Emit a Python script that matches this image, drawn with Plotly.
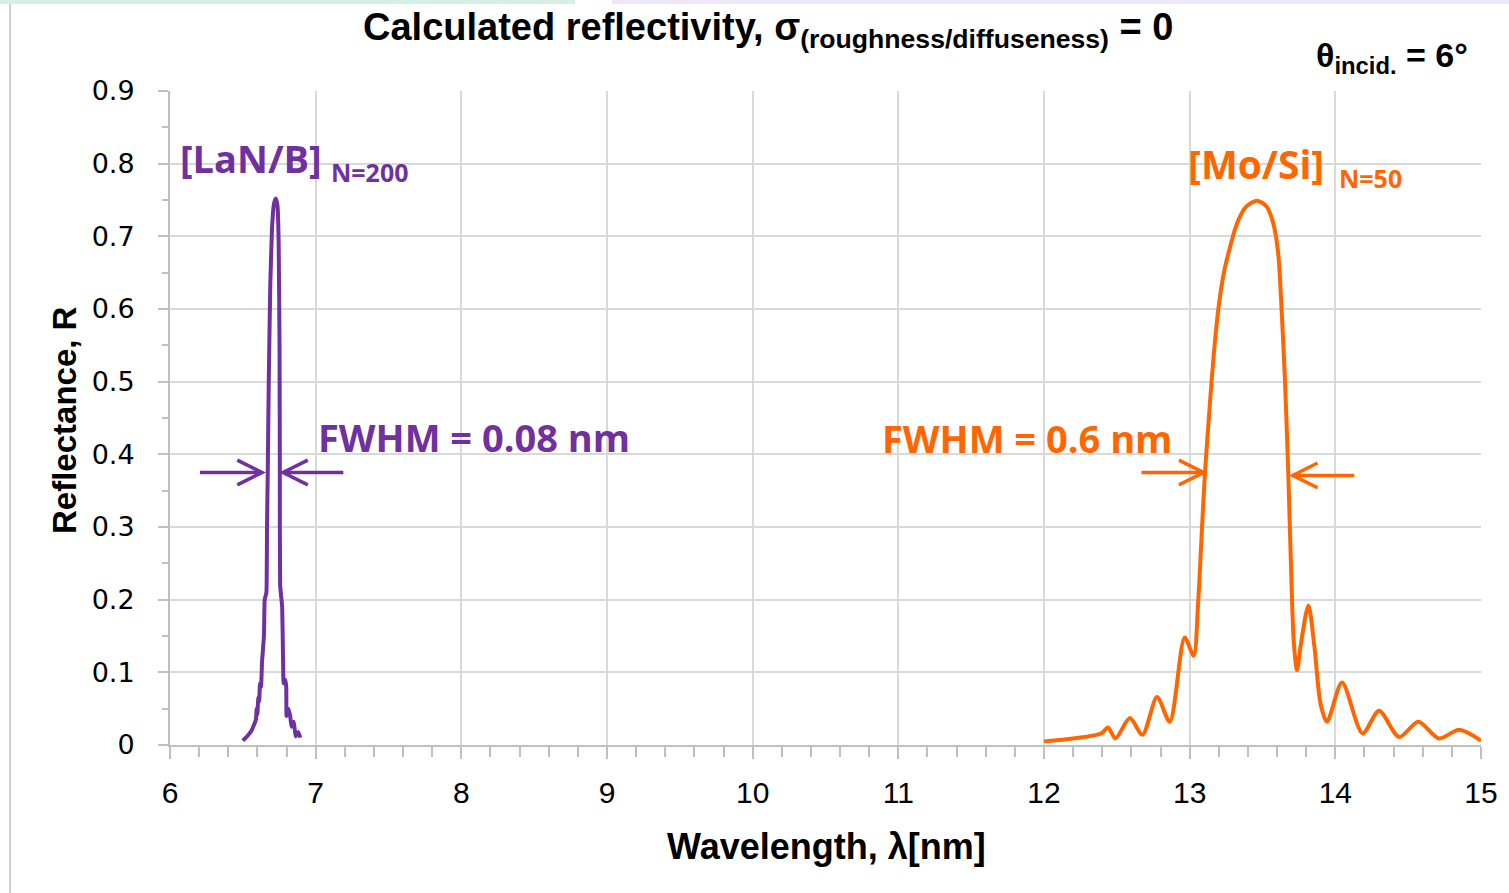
import plotly.graph_objects as go

# ---------------- data ----------------
lanb_wl = [6.500, 6.530, 6.560, 6.575, 6.590, 6.595, 6.600, 6.606, 6.612, 6.618, 6.625, 6.632,
           6.645, 6.650, 6.662, 6.666, 6.671, 6.678, 6.688, 6.700, 6.714, 6.726, 6.738, 6.746,
           6.752, 6.754, 6.756, 6.770, 6.776, 6.780, 6.790, 6.798, 6.800, 6.812, 6.825, 6.834,
           6.850, 6.862, 6.880, 6.895]
lanb_r = [0.006, 0.012, 0.020, 0.027, 0.035, 0.050, 0.042, 0.065, 0.060, 0.085, 0.080, 0.115,
          0.150, 0.200, 0.210, 0.300, 0.375, 0.500, 0.630, 0.710, 0.745, 0.752, 0.742, 0.690,
          0.550, 0.375, 0.220, 0.190, 0.120, 0.085, 0.090, 0.080, 0.040, 0.050, 0.040, 0.025,
          0.032, 0.012, 0.018, 0.010]

mosi_wl = [12.00, 12.20, 12.36, 12.395, 12.44, 12.49, 12.59, 12.676, 12.776, 12.863, 12.966,
           13.027, 13.057, 13.085, 13.105, 13.130, 13.151, 13.178, 13.208, 13.240, 13.277, 13.310,
           13.345, 13.380, 13.414, 13.464, 13.528, 13.574, 13.608, 13.631, 13.654, 13.677, 13.696,
           13.715, 13.737, 13.765, 13.815, 13.856, 13.90, 13.943, 14.046, 14.187, 14.30, 14.438,
           14.57, 14.712, 14.85, 15.00]
mosi_r = [0.005, 0.009, 0.014, 0.016, 0.024, 0.009, 0.037, 0.014, 0.066, 0.032, 0.148,
          0.123, 0.192, 0.300, 0.374, 0.445, 0.502, 0.565, 0.617, 0.655, 0.685, 0.709,
          0.727, 0.739, 0.745, 0.749, 0.741, 0.718, 0.676, 0.600, 0.502, 0.374, 0.243,
          0.141, 0.103, 0.141, 0.192, 0.136, 0.055, 0.032, 0.086, 0.016, 0.047, 0.011,
          0.032, 0.009, 0.021, 0.006]

x_ticks = [6, 7, 8, 9, 10, 11, 12, 13, 14, 15]
y_ticks = [0, 0.1, 0.2, 0.3, 0.4, 0.5, 0.6, 0.7, 0.8, 0.9]
y_ticklabels = ["0", "0.1", "0.2", "0.3", "0.4", "0.5", "0.6", "0.7", "0.8", "0.9"]

PURPLE = "#7030A0"
ORANGE = "#FF6600"
NARROW = "Liberation Sans Narrow, Arial Narrow, sans-serif"
WIDE = "Open Sans, sans-serif"

W, H = 1509, 893
L, R, T, B = 170, 28, 91, 148
PW, PH = W - L - R, H - T - B


def px(x):
    return (x - L) / PW


def py(y):
    return (H - B - y) / PH


fig = go.Figure()
fig.add_trace(go.Scatter(x=lanb_wl, y=lanb_r, mode="lines",
                         line=dict(color=PURPLE, width=4, shape="spline", smoothing=0.3),
                         showlegend=False, hoverinfo="skip"))
fig.add_trace(go.Scatter(x=mosi_wl, y=mosi_r, mode="lines",
                         line=dict(color=ORANGE, width=4, shape="spline", smoothing=0.8),
                         showlegend=False, hoverinfo="skip"))

fig.update_layout(
    width=W, height=H,
    margin=dict(l=L, r=R, t=T, b=B),
    paper_bgcolor="white", plot_bgcolor="white",
    showlegend=False,
)
fig.update_xaxes(
    range=[6, 15], tickvals=x_ticks, ticktext=[str(v) for v in x_ticks],
    showgrid=True, gridcolor="#D9D9D9", gridwidth=2,
    showline=True, linecolor="#BFBFBF", linewidth=2,
    ticks="outside", ticklen=12, tickcolor="#BFBFBF", tickwidth=2,
    ticklabelstandoff=8,
    minor=dict(dtick=0.2, ticks="outside", ticklen=10, tickcolor="#BFBFBF", tickwidth=1.5, showgrid=False),
    tickfont=dict(family=NARROW, size=30, color="black"),
    zeroline=False,
)
fig.update_yaxes(
    range=[0, 0.9], tickvals=y_ticks, ticktext=y_ticklabels,
    showgrid=True, gridcolor="#D9D9D9", gridwidth=2,
    showline=True, linecolor="#BFBFBF", linewidth=2,
    ticks="outside", ticklen=10, tickcolor="#BFBFBF", tickwidth=2,
    ticklabelstandoff=18,
    minor=dict(dtick=0.05, ticks="outside", ticklen=6, tickcolor="#BFBFBF", tickwidth=1.5, showgrid=False),
    tickfont=dict(family="DejaVu Sans, Verdana, sans-serif", size=27, color="black"),
    zeroline=False,
)

ann = []
# Title
ann.append(dict(x=px(768), y=py(30), xref="paper", yref="paper", xanchor="center", yanchor="middle",
                text="<b>Calculated reflectivity</b><b>, σ<sub>(roughness/diffuseness)</sub> = 0</b>",
                showarrow=False, font=dict(family=NARROW, size=38, color="black")))
ann.append(dict(x=px(1470), y=py(58), xref="paper", yref="paper", xanchor="right", yanchor="middle",
                text="<b>θ<sub>incid.</sub> = 6°</b>",
                showarrow=False, font=dict(family=NARROW, size=34, color="black")))
# Axis titles
ann.append(dict(x=px(64), y=py(420), xref="paper", yref="paper", xanchor="center", yanchor="middle",
                text="<b>Reflectance, R</b>", textangle=-90,
                showarrow=False, font=dict(family=NARROW, size=33, color="black")))
ann.append(dict(x=px(826), y=py(846), xref="paper", yref="paper", xanchor="center", yanchor="middle",
                text="<b>Wavelength, λ[nm]</b>",
                showarrow=False, font=dict(family=NARROW, size=36, color="black")))
# Series labels
ann.append(dict(x=px(178), y=py(158), xref="paper", yref="paper", xanchor="left", yanchor="middle",
                text="<b>[LaN/B]</b>", showarrow=False, font=dict(family=WIDE, size=38, color=PURPLE)))
ann.append(dict(x=px(329), y=py(172), xref="paper", yref="paper", xanchor="left", yanchor="middle",
                text="<b>N=200</b>", showarrow=False, font=dict(family=WIDE, size=25, color=PURPLE)))
ann.append(dict(x=px(316), y=py(437), xref="paper", yref="paper", xanchor="left", yanchor="middle",
                text="<b>FWHM = 0.08 nm</b>", showarrow=False, font=dict(family=WIDE, size=38, color=PURPLE)))
ann.append(dict(x=px(1186), y=py(163), xref="paper", yref="paper", xanchor="left", yanchor="middle",
                text="<b>[Mo/Si]</b>", showarrow=False, font=dict(family=WIDE, size=39, color=ORANGE)))
ann.append(dict(x=px(1337), y=py(178), xref="paper", yref="paper", xanchor="left", yanchor="middle",
                text="<b>N=50</b>", showarrow=False, font=dict(family=WIDE, size=25, color=ORANGE)))
ann.append(dict(x=px(1174), y=py(438), xref="paper", yref="paper", xanchor="right", yanchor="middle",
                text="<b>FWHM = 0.6 nm</b>", showarrow=False, font=dict(family=WIDE, size=38, color=ORANGE)))
fig.update_layout(annotations=ann)

# Arrows (shaft + open chevron), drawn in data coordinates
shapes = []


def arrow(x_start, x_tip, yv, color):
    d = 0.17 if x_tip > x_start else -0.17
    dy = 0.017
    shapes.append(dict(type="line", xref="x", yref="y", x0=x_start, x1=x_tip, y0=yv, y1=yv,
                       line=dict(color=color, width=3.5)))
    shapes.append(dict(type="path", xref="x", yref="y",
                       path=f"M {x_tip - d},{yv + dy} L {x_tip},{yv} L {x_tip - d},{yv - dy}",
                       line=dict(color=color, width=3.5)))


arrow(6.206, 6.632, 0.375, PURPLE)
arrow(7.19, 6.776, 0.375, PURPLE)
arrow(12.669, 13.096, 0.375, ORANGE)
arrow(14.13, 13.708, 0.371, ORANGE)

# slide decorations
shapes.append(dict(type="rect", xref="paper", yref="paper", x0=px(0), x1=px(575), y0=py(0), y1=py(4),
                   fillcolor="#D6F0E6", line=dict(width=0), layer="below"))
shapes.append(dict(type="rect", xref="paper", yref="paper", x0=px(612), x1=px(1509), y0=py(0), y1=py(4),
                   fillcolor="#EEE7F8", line=dict(width=0), layer="below"))
shapes.append(dict(type="line", xref="paper", yref="paper", x0=px(10), x1=px(10), y0=py(4), y1=py(893),
                   line=dict(color="#D0D0D0", width=2)))
fig.update_layout(shapes=shapes)

fig.write_html("out.html")
